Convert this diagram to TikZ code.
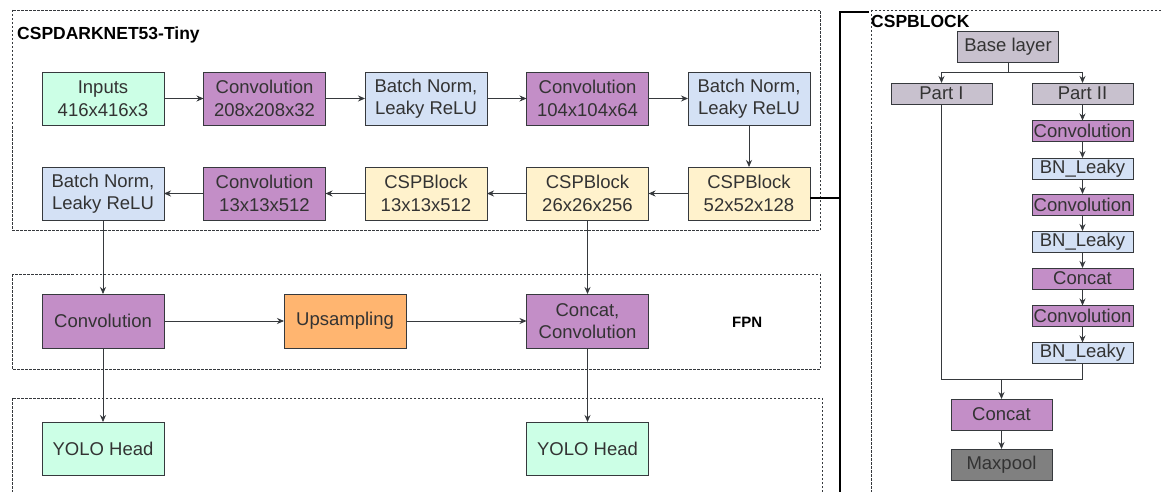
\documentclass[tikz,border=0pt]{standalone}
\usepackage{fontspec}
\setmainfont{Liberation Sans}
\usetikzlibrary{arrows.meta}
\definecolor{mintc}{HTML}{CCFFE6}
\definecolor{convc}{HTML}{C38EC7}
\definecolor{bnc}{HTML}{D4E1F5}
\definecolor{cspc}{HTML}{FFF2CC}
\definecolor{upc}{HTML}{FFB570}
\definecolor{basec}{HTML}{C8C1CE}
\definecolor{maxc}{HTML}{808080}
\definecolor{edgec}{HTML}{36393D}
\definecolor{txtc}{HTML}{333333}
\tikzset{
  blk/.style={draw=edgec, line width=0.9pt, inner sep=0pt, outer sep=0pt, align=center,
    text=txtc, font=\fontsize{18.5}{22.5}\selectfont, minimum width=122pt, minimum height=53pt},
  small/.style={blk, minimum width=101pt, minimum height=21pt},
  mid/.style={blk, minimum width=101pt, minimum height=31pt},
  mintbox/.style={fill=mintc},
  convbox/.style={fill=convc},
  bnbox/.style={fill=bnc},
  cspbox/.style={fill=cspc},
  upbox/.style={fill=upc},
  basebox/.style={fill=basec},
  maxbox/.style={fill=maxc},
  arr/.style={draw=edgec, line width=0.8pt, -{Stealth[length=7pt,width=6pt]}},
  ln/.style={draw=edgec, line width=0.8pt},
  bus/.style={draw=black, line width=1.8pt},
  frame/.style={draw=edgec, line width=0.6pt, dash pattern=on 2.5pt off 1.5pt},
  ttl/.style={font=\fontsize{17.5}{20}\selectfont\bfseries, inner sep=0pt, anchor=base west, text=black},
}
\begin{document}
\begin{tikzpicture}[x=1pt,y=-1pt]
\useasboundingbox (0,0) rectangle (1161,492);
\fill[white] (0,0) rectangle (1161,492);

% frames
\draw[frame] (12,10) rectangle (820,230);
\draw[frame] (12,274) rectangle (820,369);
\draw[frame] (12,398) rectangle (822,510);
\draw[frame] (871,10) rectangle (1180,510);

\node[ttl] (t1) at (17,40) {CSPDARKNET53-Tiny};
\node[ttl] (t2) at (871,28) {CSPBLOCK};
\node[ttl, font=\fontsize{15}{18}\selectfont\bfseries] (t3) at (732,327) {FPN};

% row 1
\node[blk,mintbox] (inp) at (103,98.5) {Inputs\\416x416x3};
\node[blk,convbox] (c1) at (264.5,98.5) {Convolution\\208x208x32};
\node[blk,bnbox] (b1) at (426,98.5) {Batch Norm,\\Leaky ReLU};
\node[blk,convbox] (c2) at (587.5,98.5) {Convolution\\104x104x64};
\node[blk,bnbox] (b2) at (749,98.5) {Batch Norm,\\Leaky ReLU};
% row 2
\node[blk,bnbox] (b3) at (103,193.5) {Batch Norm,\\Leaky ReLU};
\node[blk,convbox] (c3) at (264.5,193.5) {Convolution\\13x13x512};
\node[blk,cspbox] (s3) at (426,193.5) {CSPBlock\\13x13x512};
\node[blk,cspbox] (s2) at (587.5,193.5) {CSPBlock\\26x26x256};
\node[blk,cspbox] (s1) at (749,193.5) {CSPBlock\\52x52x128};
% FPN
\node[blk,convbox,minimum height=54pt] (fc) at (103,321) {Convolution};
\node[blk,upbox,minimum height=54pt] (fu) at (345,321) {Upsampling};
\node[blk,convbox,minimum height=54pt] (fk) at (587.5,321) {Concat,\\Convolution};
% heads
\node[blk,mintbox] (h1) at (103,448.5) {YOLO Head};
\node[blk,mintbox] (h2) at (587.5,448.5) {YOLO Head};

\draw[arr] (inp) -- (c1);
\draw[arr] (c1) -- (b1);
\draw[arr] (b1) -- (c2);
\draw[arr] (c2) -- (b2);
\draw[arr] (b2) -- (s1);
\draw[arr] (s1) -- (s2);
\draw[arr] (s2) -- (s3);
\draw[arr] (s3) -- (c3);
\draw[arr] (c3) -- (b3);
\draw[arr] (b3) -- (fc);
\draw[arr] (s2) -- (fk);
\draw[arr] (fc) -- (fu);
\draw[arr] (fu) -- (fk);
\draw[arr] (fc) -- (h1);
\draw[arr] (fk) -- (h2);

% bus
\coordinate (jn) at (840,198);
\coordinate (bustop) at (840,12);
\coordinate (busend) at (869,12);
\coordinate (busbot) at (840,500);
\draw[bus] ([yshift=-4.5pt]s1.east) -- (jn);
\draw[bus] (busbot) -- (bustop) -- (busend);

% CSP block
\node[mid,basebox] (base) at (1008,46.5) {Base layer};
\node[small,basebox] (p1) at (941.5,93.5) {Part I};
\node[small,basebox] (p2) at (1082.5,93.5) {Part II};
\node[small,convbox] (k1) at (1082.5,131) {Convolution};
\node[small,bnbox] (k2) at (1082.5,168.5) {BN\_Leaky};
\node[small,convbox] (k3) at (1082.5,204.5) {Convolution};
\node[small,bnbox] (k4) at (1082.5,241.5) {BN\_Leaky};
\node[small,convbox] (k5) at (1082.5,278.5) {Concat};
\node[small,convbox] (k6) at (1082.5,316) {Convolution};
\node[small,bnbox] (k7) at (1082.5,353) {BN\_Leaky};
\node[mid,convbox] (cc) at (1001.5,414.5) {Concat};
\node[mid,maxbox] (mp) at (1001.5,464.5) {Maxpool};

\coordinate (split) at (1008,72);
\draw[ln] (base) -- (split);
\draw[arr] (split) -| (p1);
\draw[arr] (split) -| (p2);
\draw[arr] (p2) -- (k1);
\draw[arr] (k1) -- (k2);
\draw[arr] (k2) -- (k3);
\draw[arr] (k3) -- (k4);
\draw[arr] (k4) -- (k5);
\draw[arr] (k5) -- (k6);
\draw[arr] (k6) -- (k7);
\coordinate (merge) at (1001.5,379);
\draw[ln] (p1) |- (merge);
\draw[ln] (k7) |- (merge);
\draw[arr] (merge) -- (cc);
\draw[arr] (cc) -- (mp);
\end{tikzpicture}
\end{document}
